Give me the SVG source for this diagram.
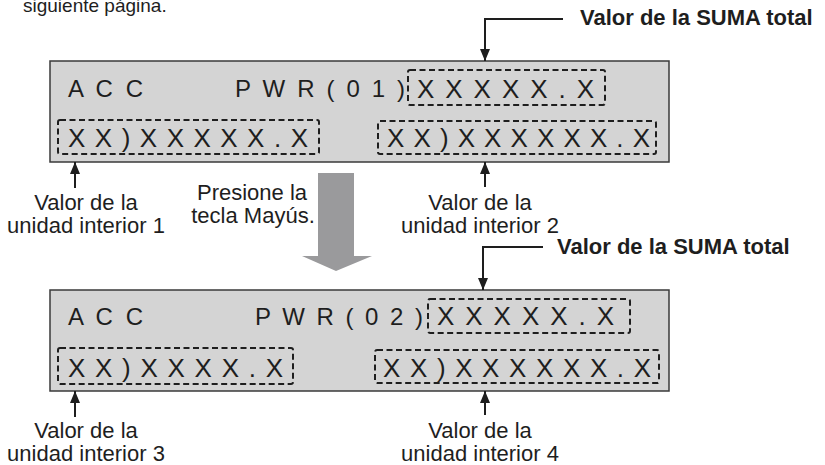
<svg xmlns="http://www.w3.org/2000/svg" width="825" height="465" viewBox="0 0 825 465">
<style>
.panel{fill:#d4d4d4;stroke:#3a3a3a;stroke-width:1.5}
.dash{fill:none;stroke:#1e1e1e;stroke-width:2;stroke-dasharray:6 3.5}
.lcd{font-family:"Liberation Sans",Arial,sans-serif;font-size:24px;fill:#1e1e1e}
.lcd2{font-family:"Liberation Sans",Arial,sans-serif;font-size:26px;fill:#1e1e1e}
.lbl{font-family:"Liberation Sans",Arial,sans-serif;font-size:22px;fill:#1e1e1e;text-anchor:middle}
.bold{font-family:"Liberation Sans",Arial,sans-serif;font-size:22px;font-weight:bold;fill:#1e1e1e}
.top{font-family:"Liberation Sans",Arial,sans-serif;font-size:19px;fill:#1e1e1e}
.ln{fill:none;stroke:#1e1e1e;stroke-width:2}
</style>
<defs>
<marker id="ah" viewBox="0 0 12 10" refX="12" refY="5" markerWidth="12" markerHeight="10" markerUnits="userSpaceOnUse" orient="auto">
<path d="M0,0 L12,5 L0,10 Z" fill="#1e1e1e"/>
</marker>
</defs>
<text class="top" x="23" y="12">siguiente página.</text>

<g id="panel1">
<rect class="panel" x="50" y="61" width="619" height="101"/>
<text class="lcd" x="68" y="97" textLength="75" lengthAdjust="spacing">A C C</text>
<text class="lcd" x="235" y="97" textLength="170" lengthAdjust="spacing">P W R ( 0 1 )</text>
<rect class="dash" x="408" y="70" width="197" height="35" rx="2"/>
<text class="lcd2" x="417" y="98" textLength="177" lengthAdjust="spacing">X X X X X . X</text>
<rect class="dash" x="58" y="120" width="261" height="34" rx="2"/>
<text class="lcd2" x="68" y="147" textLength="240" lengthAdjust="spacing">XX)XXXXX.X</text>
<rect class="dash" x="378" y="121" width="278" height="33" rx="2"/>
<text class="lcd2" x="387" y="147" textLength="263" lengthAdjust="spacing">X X ) X X X X X X . X</text>
</g>

<g id="panel2">
<rect class="panel" x="50" y="290" width="619" height="101"/>
<text class="lcd" x="68" y="325" textLength="75" lengthAdjust="spacing">A C C</text>
<text class="lcd" x="255" y="325" textLength="168" lengthAdjust="spacing">P W R ( 0 2 )</text>
<rect class="dash" x="428" y="299" width="202" height="34" rx="2"/>
<text class="lcd2" x="437" y="325" textLength="177" lengthAdjust="spacing">X X X X X . X</text>
<rect class="dash" x="58" y="348" width="235" height="36" rx="2"/>
<text class="lcd2" x="68" y="377" textLength="215" lengthAdjust="spacing">XX)XXXX.X</text>
<rect class="dash" x="375" y="350" width="284" height="33" rx="2"/>
<text class="lcd2" x="383" y="377" textLength="268" lengthAdjust="spacing">X X ) X X X X X X . X</text>
</g>

<g id="sum1"><text class="bold" x="580" y="25">Valor de la SUMA total</text></g>
<g id="sum2"><text class="bold" x="557" y="254">Valor de la SUMA total</text></g>
<g id="unit1"><text class="lbl" x="86" y="210">Valor de la</text><text class="lbl" x="86" y="233">unidad interior 1</text></g>
<g id="unit2"><text class="lbl" x="480" y="210">Valor de la</text><text class="lbl" x="480" y="233">unidad interior 2</text></g>
<g id="unit3"><text class="lbl" x="86" y="438">Valor de la</text><text class="lbl" x="86" y="461">unidad interior 3</text></g>
<g id="unit4"><text class="lbl" x="480" y="438">Valor de la</text><text class="lbl" x="480" y="461">unidad interior 4</text></g>
<g id="shift"><text class="lbl" x="252" y="200">Presione la</text><text class="lbl" x="253" y="223">tecla Mayús.</text></g>

<g id="connectors">
<polyline class="ln" points="563,19 485,19 485,61" marker-end="url(#ah)"/>
<polyline class="ln" points="543,247 483,247 483,290" marker-end="url(#ah)"/>
<line class="ln" x1="75" y1="188" x2="75" y2="162" marker-end="url(#ah)"/>
<line class="ln" x1="485" y1="187" x2="485" y2="162" marker-end="url(#ah)"/>
<line class="ln" x1="75" y1="417" x2="75" y2="391" marker-end="url(#ah)"/>
<line class="ln" x1="485" y1="415" x2="485" y2="391" marker-end="url(#ah)"/>
<polygon points="318,173 354,173 354,256 372,256 336,271 302,256 318,256" fill="#9a9a9c"/>
</g>
</svg>
